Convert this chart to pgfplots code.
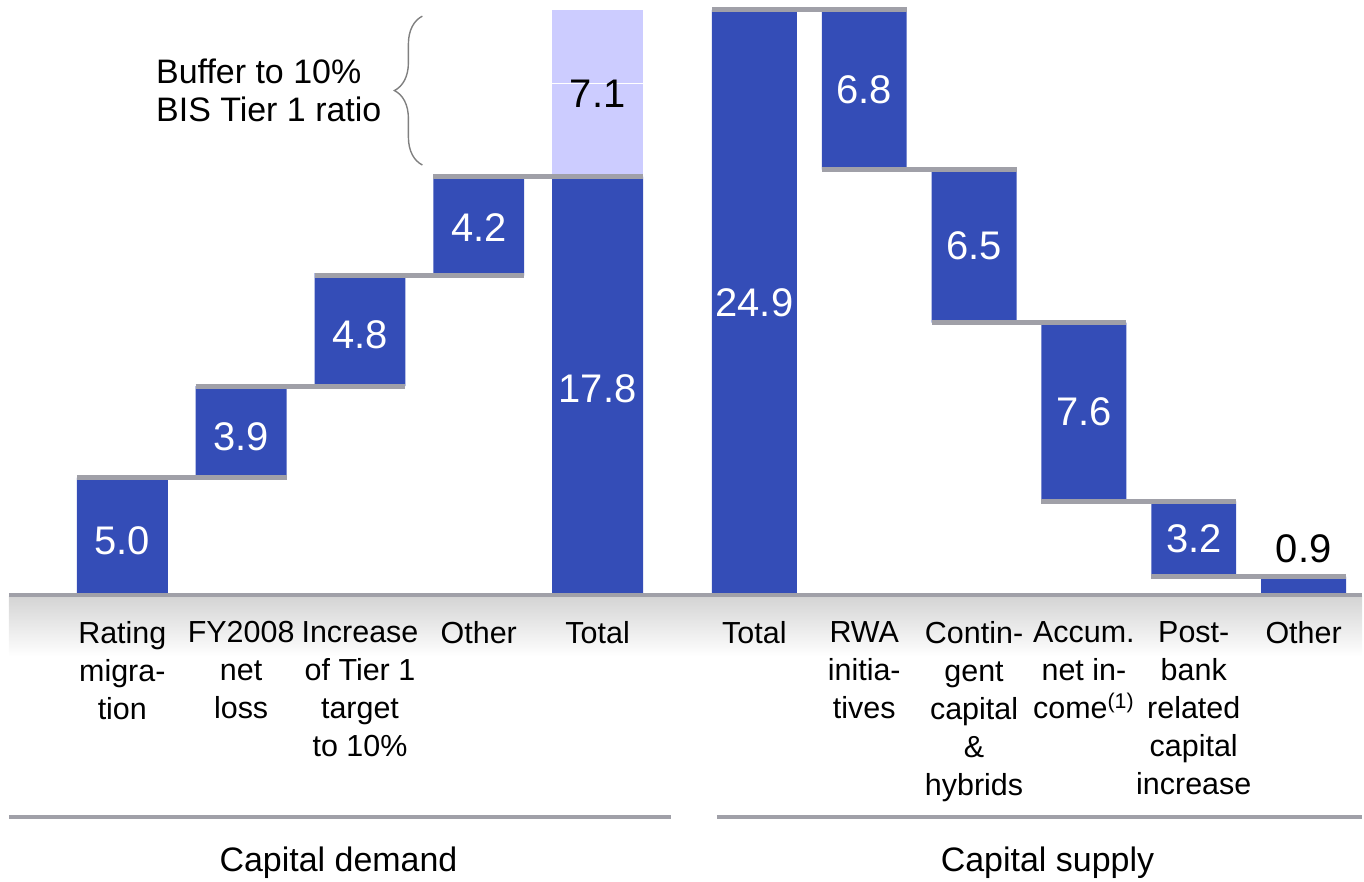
\documentclass[border=0pt]{standalone}
\usepackage{fontspec}
\setmainfont{Liberation Sans}
\usepackage{pgfplots}
\pgfplotsset{compat=1.18}
\usepackage{pgfplotstable}
\usetikzlibrary{decorations.pathreplacing}
\definecolor{barblue}{RGB}{52,77,183}
\definecolor{barlight}{RGB}{204,204,255}
\definecolor{linegray}{RGB}{160,160,168}
\definecolor{bandgray}{RGB}{212,212,212}
\definecolor{bracegray}{RGB}{128,128,128}

\pgfplotstableread{
x offset demand supply buffer
122.5 0 5.0 0 0
241.5 5.0 3.9 0 0
360.5 8.9 4.8 0 0
479.5 13.6 4.2 0 0
598.5 0 17.8 0 7.1
755.5 0 0 24.9 0
865.5 18.1 0 6.8 0
975.5 11.6 0 6.5 0
1085.5 4.0 0 7.6 0
1195.5 0.8 0 3.2 0
1305.5 0 0 0.8 0
}\bars

\pgfplotsset{base/.style={width=682pt, height=441pt, scale only axis,
  xmin=0, xmax=1364, ymin=-12.144, ymax=25.308, clip=false, at={(0,0)}, anchor=south west}}

\begin{document}
\begin{tikzpicture}
% background band
\begin{axis}[base, hide axis]
\path (axis cs:0,-12.144) rectangle (axis cs:1364,25.308);
\fill[top color=bandgray, bottom color=white] (axis cs:9,-0.05) rectangle (axis cs:1364,-2.6);
\end{axis}
% bars and category labels
\begin{axis}[base, ybar stacked,
  axis line style={draw=none}, major tick length=0pt, ytick=\empty,
  xtick={122.5,241.5,360.5,479.5,598.5,755.5,865.5,975.5,1085.5,1195.5,1305.5},
  xticklabels={{Rating\\migra-\\tion},{FY2008\\net\\loss},{Increase\\of Tier 1\\target\\to 10\%},{Other},{Total},
    {Total},{RWA\\initia-\\tives},{Contin-\\gent\\capital\\\&\\hybrids},{Accum.\\net in-\\come\textsuperscript{(1)}},{Post-\\bank\\related\\capital\\increase},{Other}},
  xticklabel style={anchor=north, align=center, inner sep=0pt, text=black,
    font=\fontsize{15.25}{19}\selectfont, yshift=130pt}]
\addplot[draw=none, fill=none, bar width=85] table[x=x, y=offset] {\bars};
\addplot[draw=none, fill=barblue, bar width=91] table[x=x, y=demand] {\bars};
\addplot[draw=none, fill=barblue, bar width=85] table[x=x, y=supply] {\bars};
\addplot[draw=none, fill=barlight, bar width=91] table[x=x, y=buffer] {\bars};
\end{axis}
% connectors, lines and texts
\begin{axis}[base, hide axis]
\draw[white, line width=0.6pt] (axis cs:553,21.78) -- (axis cs:644,21.78);
\addplot[linegray, line width=2pt, no marks] coordinates {(9,0) (1364,0)};
\addplot[linegray, line width=2.5pt, no marks] coordinates {(77,5.0) (287,5.0)};
\addplot[linegray, line width=2.5pt, no marks] coordinates {(196,8.9) (406,8.9)};
\addplot[linegray, line width=2.5pt, no marks] coordinates {(315,13.6) (525,13.6)};
\addplot[linegray, line width=2.5pt, no marks] coordinates {(434,17.8) (644,17.8)};
\addplot[linegray, line width=2.5pt, no marks] coordinates {(713,24.9) (908,24.9)};
\addplot[linegray, line width=2.5pt, no marks] coordinates {(823,18.1) (1018,18.1)};
\addplot[linegray, line width=2.5pt, no marks] coordinates {(933,11.6) (1128,11.6)};
\addplot[linegray, line width=2.5pt, no marks] coordinates {(1043,4.0) (1238,4.0)};
\addplot[linegray, line width=2.5pt, no marks] coordinates {(1153,0.8) (1348,0.8)};
\addplot[linegray, line width=2pt, no marks] coordinates {(9,-9.427) (672,-9.427)};
\addplot[linegray, line width=2pt, no marks] coordinates {(718,-9.427) (1364,-9.427)};
% value labels
\begin{scope}[every node/.style={inner sep=0pt, font=\fontsize{20}{24}\selectfont, text=white}]
\node at (axis cs:122.5,2.3) {5.0};
\node at (axis cs:241.5,6.75) {3.9};
\node at (axis cs:360.5,11.1) {4.8};
\node at (axis cs:479.5,15.65) {4.2};
\node at (axis cs:598.5,8.8) {17.8};
\node[text=black] at (axis cs:598.5,21.35) {7.1};
\node at (axis cs:755.5,12.45) {24.9};
\node at (axis cs:865.5,21.5) {6.8};
\node at (axis cs:975.5,14.85) {6.5};
\node at (axis cs:1085.5,7.8) {7.6};
\node at (axis cs:1195.5,2.4) {3.2};
\node[text=black, anchor=base] at (axis cs:1305.5,1.40) {0.9};
\end{scope}
% buffer annotation and group labels
\begin{scope}[every node/.style={inner sep=0pt, font=\fontsize{17}{20}\selectfont, text=black}]
\node[anchor=base west] at (axis cs:156,21.78) {Buffer to 10\%};
\node[anchor=base west] at (axis cs:156,20.13) {BIS Tier 1 ratio};
\node[anchor=base] at (axis cs:339,-11.76) {Capital demand};
\node[anchor=base] at (axis cs:1049,-11.76) {Capital supply};
\end{scope}
\draw[bracegray, line width=0.7pt, decorate, decoration={brace, amplitude=14pt}]
  (axis cs:423,18.30) -- (axis cs:423,24.63);
\end{axis}
\end{tikzpicture}
\end{document}
